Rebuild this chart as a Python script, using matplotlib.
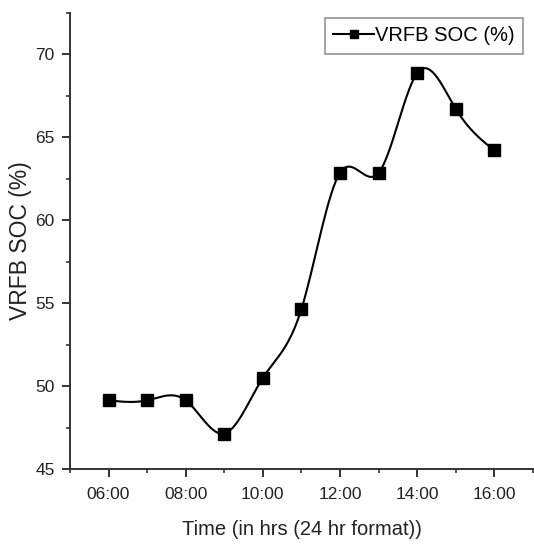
import numpy as np
import matplotlib
matplotlib.use('Agg')
import matplotlib.pyplot as plt
from matplotlib.ticker import MultipleLocator

hours = [6, 7, 8, 9, 10, 11, 12, 13, 14, 15, 16]
soc = [49.15, 49.15, 49.15, 47.15, 50.5, 54.65, 62.85, 62.85, 68.85, 66.7, 64.2]
xtick_pos = [6, 8, 10, 12, 14, 16]
xtick_labels = ['06:00', '08:00', '10:00', '12:00', '14:00', '16:00']

plt.rcParams['font.family'] = ['Liberation Sans', 'DejaVu Sans']


def natural_spline(x, y, xs):
    x = np.asarray(x, float)
    y = np.asarray(y, float)
    n = len(x)
    h = np.diff(x)
    A = np.zeros((n, n))
    r = np.zeros(n)
    A[0, 0] = 1
    A[-1, -1] = 1
    for i in range(1, n-1):
        A[i, i-1] = h[i-1]
        A[i, i] = 2*(h[i-1] + h[i])
        A[i, i+1] = h[i]
        r[i] = 6*((y[i+1]-y[i])/h[i] - (y[i]-y[i-1])/h[i-1])
    m = np.linalg.solve(A, r)
    idx = np.clip(np.searchsorted(x, xs) - 1, 0, n-2)
    x0, x1 = x[idx], x[idx+1]
    hh = x1 - x0
    a = (x1 - xs)/hh
    b = (xs - x0)/hh
    return a*y[idx] + b*y[idx+1] + ((a**3 - a)*m[idx] + (b**3 - b)*m[idx+1])*hh**2/6


fig = plt.figure(figsize=(5.34, 5.45), dpi=100)
ax = fig.add_axes([0.131, 0.139, 0.867, 0.838])

xs = np.linspace(hours[0], hours[-1], 400)
ax.plot(xs, natural_spline(hours, soc, xs), color='black', lw=1.5)
ax.plot(hours, soc, 's', color='black', ms=8)
# legend handle: line with a square marker
ax.plot([], [], '-s', color='black', lw=1.5, ms=6, label='VRFB SOC (%)')

ax.set_xlim(5, 17)
ax.set_ylim(45, 72.5)
ax.set_xticks(xtick_pos)
ax.set_xticklabels(xtick_labels)
ax.xaxis.set_minor_locator(MultipleLocator(1))
ax.yaxis.set_major_locator(MultipleLocator(5))
ax.yaxis.set_minor_locator(MultipleLocator(2.5))

for s in ['top', 'right']:
    ax.spines[s].set_visible(False)
for s in ['left', 'bottom']:
    ax.spines[s].set_linewidth(1.4)
    ax.spines[s].set_color('#333333')
ax.tick_params(which='major', length=6, width=1.4, color='#333333', labelsize=12.5, labelcolor='#222222')
ax.tick_params(axis='x', which='major', pad=7)
ax.tick_params(axis='y', which='major', pad=5)
ax.tick_params(which='minor', length=3, width=1.2, color='#333333')

ax.set_xlabel('Time (in hrs (24 hr format))', fontsize=14.5, color='#222222', labelpad=13)
ax.set_ylabel('VRFB SOC (%)', fontsize=16.5, color='#222222')
ax.yaxis.set_label_coords(-0.082, 0.5)

leg = ax.legend(loc='upper right', bbox_to_anchor=(0.978, 0.988), prop={'size': 14.5},
                frameon=True, fancybox=False, handlelength=2.0, handletextpad=0.05,
                borderpad=0.42, borderaxespad=0)
leg.get_frame().set_edgecolor('#777777')
leg.get_frame().set_linewidth(1.2)

fig.savefig('out.png', dpi=100)
